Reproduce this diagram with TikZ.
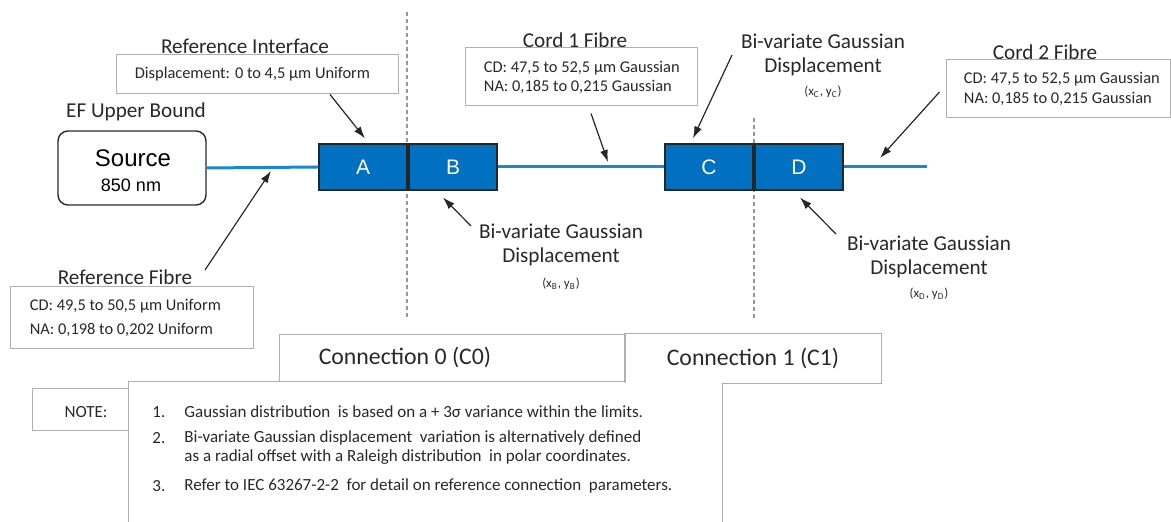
\documentclass[tikz,border=0pt]{standalone}
\usepackage{fontspec}
\setmainfont{Carlito}
\newfontfamily\arialfont{Liberation Sans}
\usepackage{xcolor}
\usetikzlibrary{arrows.meta, positioning, calc}

\definecolor{plugblue}{RGB}{0,112,192}
\definecolor{fibreblue}{RGB}{25,134,210}
\definecolor{framegray}{RGB}{175,175,175}
\definecolor{cutgray}{RGB}{150,150,150}
\definecolor{inkgray}{RGB}{40,40,40}

\tikzset{
  plug/.style={draw=black!85, line width=0.6pt, fill=plugblue, text=white,
    font=\arialfont\fontsize{10.5}{12}\selectfont,
    minimum width=44pt, minimum height=23pt, inner sep=0pt},
  infobox/.style={draw=framegray, fill=white, line width=0.5pt, inner sep=0pt},
  boxtext/.style={font=\fontsize{8.2}{9.5}\selectfont, text=inkgray, inner sep=0pt, anchor=west, align=left},
  heading/.style={font=\fontsize{10.6}{12}\selectfont, text=inkgray, inner sep=0pt, align=center},
  coords/.style={font=\fontsize{6.5}{8}\selectfont, text=inkgray, inner sep=0pt},
  fibre/.style={fibreblue, line width=1.5pt},
  pointer/.style={-{Latex[length=6pt,width=4pt]}, line width=0.6pt, black!85},
  cut/.style={cutgray, dash pattern=on 2pt off 1.5pt, line width=0.6pt},
  notetext/.style={font=\fontsize{8.5}{10}\selectfont, text=inkgray, inner sep=0pt, anchor=west, align=left}
}

\begin{document}
\begin{tikzpicture}[x=0.5pt, y=-0.5pt]
\useasboundingbox (0,0) rectangle (1171,522);

% Connection planes
\draw[cut] (407,12) -- (407,318);
\draw[cut] (754,118) -- (754,318);

% Source
\node[draw=inkgray, line width=0.7pt, rounded corners=5pt, minimum width=74pt, minimum height=37pt, inner sep=0pt] (source) at (132,168) {};
\node[font=\arialfont\fontsize{12}{14}\selectfont, inner sep=0pt] (srcname) at (133,158) {Source};
\node[font=\arialfont\fontsize{9}{11}\selectfont, inner sep=0pt] (srcwave) at (131,185) {850 nm};
\node[heading] (efbound) at (136,112) {EF Upper Bound};

% Plugs
\foreach \n/\x in {A/363,B/453,C/709,D/799}
  \node[plug] (\n) at (\x,167) {\n};

% Fibres
\coordinate (fibreend) at (927,167);
\draw[fibre] (source.east) -- (A.west);
\draw[fibre] (B.east) -- (C.west);
\draw[fibre] (D.east) -- (fibreend);

% Reference interface
\node[heading] (refiftitle) at (245,46) {Reference Interface};
\node[infobox, minimum width=141pt, minimum height=19.5pt] (refifbox) at (257,74.5) {};
\node[boxtext] (refiftext) at ([xshift=9.5pt]refifbox.west) {Displacement: 0 to 4,5 μm Uniform};
\draw[pointer] ([xshift=36.5pt]refifbox.south) -- ([shift={(1pt,2.5pt)}]A.north);

% Reference fibre
\node[heading] (reffibretitle) at (125,277) {Reference Fibre};
\node[infobox, minimum width=121.5pt, minimum height=31pt] (reffibrebox) at (131.5,318) {};
\node[boxtext, font=\fontsize{8.2}{12}\selectfont] (reffibretext) at ([xshift=10pt]reffibrebox.west) {CD: 49,5 to 50,5 μm Uniform\\NA: 0,198 to 0,202 Uniform};
\coordinate (rftail) at (205,270);
\coordinate (rfhead) at (271,171);
\draw[pointer] (rftail) -- (rfhead);

% Cord 1 fibre
\node[heading] (cordonetitle) at (575,40) {Cord 1 Fibre};
\node[infobox, minimum width=116pt, minimum height=29pt] (cordonebox) at (581,77) {};
\node[boxtext] (cordonetext) at ([xshift=9.5pt]cordonebox.west) {CD: 47,5 to 52,5 μm Gaussian\\NA: 0,185 to 0,215 Gaussian};
\coordinate (cordonehead) at (608,162);
\draw[pointer] ([shift={(5pt,-3.5pt)}]cordonebox.south) -- (cordonehead);

% Cord 2 fibre
\node[heading] (cordtwotitle) at (1045,52) {Cord 2 Fibre};
\node[infobox, minimum width=112pt, minimum height=29pt] (cordtwobox) at (1058,89) {};
\node[boxtext, font=\fontsize{8.2}{10}\selectfont] (cordtwotext) at ([xshift=9pt]cordtwobox.west) {CD: 47,5 to 52,5 μm Gaussian\\NA: 0,185 to 0,215 Gaussian};
\coordinate (cordtwohead) at (880,158);
\draw[pointer] ([shift={(-3pt,-1.5pt)}]cordtwobox.west) -- (cordtwohead);

% Bi-variate displacements
\node[heading] (displabelC) at (823,55) {Bi-variate Gaussian\\Displacement};
\node[coords] (dispxyC) at (823,92) {(x\textsubscript{C}, y\textsubscript{C})};
\coordinate (ctail) at (732,55);
\draw[pointer] (ctail) -- ([shift={(-8pt,2.5pt)}]C.north);

\node[heading] (displabelB) at (561,245) {Bi-variate Gaussian\\Displacement};
\node[coords] (dispxyB) at (561,284) {(x\textsubscript{B}, y\textsubscript{B})};
\coordinate (btail) at (471,226);
\draw[pointer] (btail) -- ([shift={(-5pt,-3.5pt)}]B.south);

\node[heading] (displabelD) at (929,257) {Bi-variate Gaussian\\Displacement};
\node[coords] (dispxyD) at (929,294) {(x\textsubscript{D}, y\textsubscript{D})};
\coordinate (dtail) at (836,234);
\draw[pointer] (dtail) -- ([shift={(0.5pt,-3.5pt)}]D.south);

% Connections and notes
\draw[framegray, line width=0.5pt] (128,522) |- (279,382);
\node[infobox, minimum width=173pt, minimum height=23.5pt] (conzero) at (452,358.5) {};
\node[font=\fontsize{11.9}{13}\selectfont, text=inkgray, inner sep=0pt] (conzerotext) at (405,357) {Connection 0 (C0)};
\node[minimum width=128pt, minimum height=24.5pt, inner sep=0pt, font=\fontsize{11.9}{13}\selectfont, text=inkgray] (conone) at (753,358.5) {Connection 1 (C1)};
\draw[framegray, line width=0.5pt] (722,522) |- (conone.south east) |- (conone.north west) -- (conone.south west);
\node[infobox, minimum width=48pt, minimum height=21pt] (notebox) at (80,410) {};
\node[font=\fontsize{8.5}{10}\selectfont, text=inkgray, inner sep=0pt] (notelabel) at (86,412) {NOTE:};

\foreach \n/\y in {1/412,2/438,3/486}
  \node[notetext] (num\n) at (152,\y) {\n.};
\node[notetext] (noteone) at (184,412) {Gaussian distribution\ \ is based on a + 3σ variance within the limits.};
\node[notetext, font=\fontsize{8.5}{9.5}\selectfont] (notetwo) at (184,447.5) {Bi-variate Gaussian displacement\ \ variation is alternatively defined\\as a radial offset with a Raleigh distribution\ \ in polar coordinates.};
\node[notetext] (notethree) at (184,486) {Refer to IEC 63267-2-2\ \ for detail on reference connection\ \ parameters.};
\end{tikzpicture}
\end{document}
